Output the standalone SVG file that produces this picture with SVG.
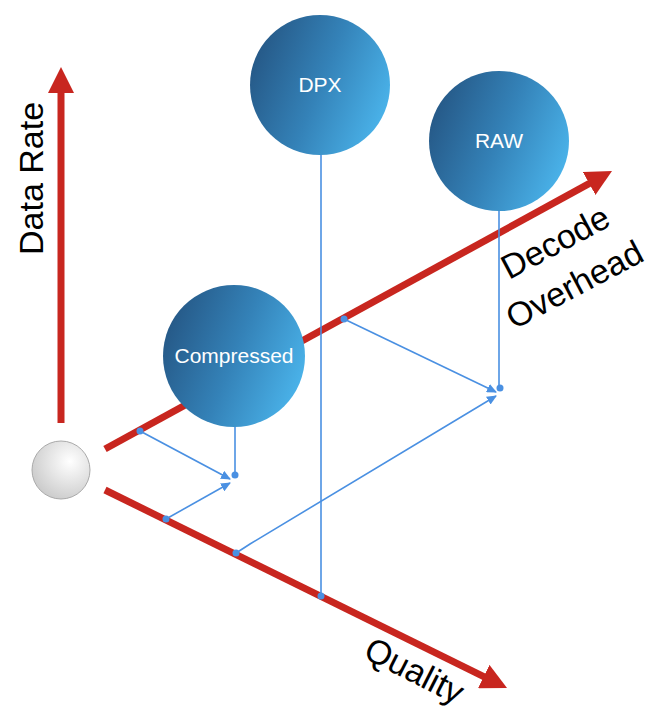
<svg xmlns="http://www.w3.org/2000/svg" width="654" height="715" viewBox="0 0 654 715">
  <defs>
    <linearGradient id="nodeGrad" x1="0" y1="0.3" x2="1" y2="0.7">
      <stop offset="0" stop-color="#255785"/>
      <stop offset="0.5" stop-color="#3482b8"/>
      <stop offset="1" stop-color="#4bb5ec"/>
    </linearGradient>
    <radialGradient id="ballGrad" cx="0.65" cy="0.35" r="0.75">
      <stop offset="0" stop-color="#ffffff"/>
      <stop offset="1" stop-color="#c8c8c8"/>
    </radialGradient>
    <marker id="redHead" viewBox="0 -13 26 26" markerWidth="26" markerHeight="26" refX="4" refY="0" markerUnits="userSpaceOnUse" orient="auto">
      <path d="M0,-13 L26,0 L0,13 z" fill="#c8261f"/>
    </marker>
    <marker id="blueHead" viewBox="0 -4.5 10 9" markerWidth="10" markerHeight="9" refX="9" refY="0" markerUnits="userSpaceOnUse" orient="auto">
      <path d="M0,-4.5 L10,0 L0,4.5 z" fill="#4a90e2"/>
    </marker>
  </defs>
  <style>
    .axis { stroke: #c8261f; stroke-width: 7; fill: none; }
    .conn { stroke: #4a90e2; stroke-width: 1.6; fill: none; }
    .dot { fill: #4a90e2; }
    .node { fill: url(#nodeGrad); }
    .nlabel { font-family: "Liberation Sans", Arial, sans-serif; font-size: 21px; fill: #ffffff; text-anchor: middle; }
    .alabel { font-family: "Liberation Sans", Arial, sans-serif; font-size: 34px; fill: #000000; }
  </style>

  <g id="axes">
    <line class="axis" x1="61" y1="423" x2="61" y2="89" marker-end="url(#redHead)"/>
    <line class="axis" x1="105" y1="449" x2="592.7" y2="181.6" marker-end="url(#redHead)"/>
    <line class="axis" x1="105" y1="490" x2="487.3" y2="678.3" marker-end="url(#redHead)"/>
    <text class="alabel" transform="translate(43,255) rotate(-90)" font-size="36">Data Rate</text>
    <text class="alabel" transform="translate(509,280) rotate(-28)">Decode</text>
    <text class="alabel" transform="translate(514,330) rotate(-28)" font-size="32">Overhead</text>
    <text class="alabel" transform="translate(362,657) rotate(27)" font-size="30">Quality</text>
  </g>

  <g id="origin">
    <circle cx="61" cy="470" r="29" fill="url(#ballGrad)" stroke="#aaaaaa" stroke-width="1"/>
  </g>

  <g id="connectors">
    <line class="conn" x1="321" y1="150" x2="321" y2="596"/>
    <line class="conn" x1="499" y1="205" x2="499" y2="388"/>
    <line class="conn" x1="235" y1="420" x2="235" y2="475"/>
    <line class="conn" x1="140" y1="431" x2="230" y2="479" marker-end="url(#blueHead)"/>
    <line class="conn" x1="166" y1="519" x2="230" y2="483" marker-end="url(#blueHead)"/>
    <line class="conn" x1="344" y1="319" x2="496" y2="392" marker-end="url(#blueHead)"/>
    <path class="conn" d="M236,553 Q244,548 250,544 L496,396" marker-end="url(#blueHead)"/>
    <circle class="dot" cx="140" cy="431" r="3.5"/>
    <circle class="dot" cx="166" cy="519" r="3.5"/>
    <circle class="dot" cx="344" cy="319" r="3.5"/>
    <circle class="dot" cx="236" cy="553" r="3.5"/>
    <circle class="dot" cx="321" cy="596" r="3.5"/>
    <circle class="dot" cx="235" cy="475" r="3.5"/>
    <circle class="dot" cx="500" cy="388" r="3.5"/>
  </g>

  <g id="node-dpx">
    <circle class="node" cx="320" cy="85" r="70"/>
    <text class="nlabel" x="320" y="92">DPX</text>
  </g>
  <g id="node-raw">
    <circle class="node" cx="499" cy="141" r="70"/>
    <text class="nlabel" x="499" y="148">RAW</text>
  </g>
  <g id="node-compressed">
    <circle class="node" cx="234" cy="356" r="71"/>
    <text class="nlabel" x="234" y="363">Compressed</text>
  </g>
</svg>
